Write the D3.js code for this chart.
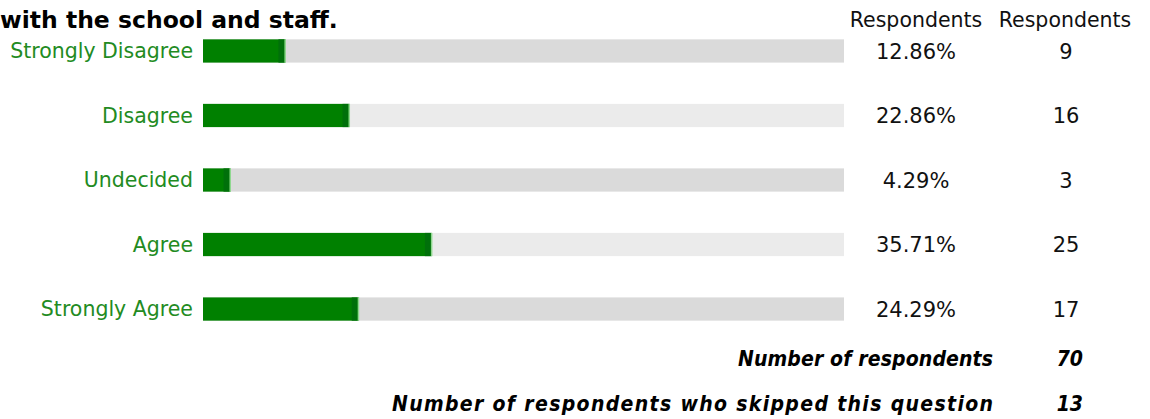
<!DOCTYPE html>
<html>
<head>
<meta charset="utf-8">
<script src="https://cdn.jsdelivr.net/npm/d3@7"></script>
<style>
  body { margin: 0; background: #fff; }
  svg { display: block; }
</style>
</head>
<body>
<div id="chart"></div>
<script>
const categories = ["Strongly Disagree", "Disagree", "Undecided", "Agree", "Strongly Agree"];
const percents = [12.86, 22.86, 4.29, 35.71, 24.29];
const counts = [9, 16, 3, 25, 17];
const headers = ["Respondents", "Respondents"];
const titleLine = "with the school and staff.";
const summaryLabels = ["Number of respondents", "Number of respondents who skipped this question"];
const summaryValues = [70, 13];

const W = 1150, H = 419;
const svg = d3.select("#chart").append("svg").attr("width", W).attr("height", H);

const x = d3.scaleLinear().domain([0, 100]).range([203, 844]);
const y = d3.scaleBand().domain(categories).range([20, 340]).paddingInner(0.64).paddingOuter(0.3);

const font = "DejaVu Sans, Verdana, sans-serif";
const condensed = "DejaVu Sans Condensed, DejaVu Sans, sans-serif";

// Title (second line of the question)
svg.append("text")
  .attr("x", 0).attr("y", 28)
  .attr("font-family", font)
  .attr("font-weight", "bold")
  .attr("font-size", "23.5px")
  .attr("fill", "#000")
  .text(titleLine);

// Column headers
const colX = [916, 1065];
svg.selectAll(".hdr")
  .data(headers)
  .join("text")
  .attr("class", "hdr")
  .attr("x", (d, i) => colX[i]).attr("y", 27)
  .attr("text-anchor", "middle")
  .attr("font-family", font)
  .attr("font-size", "20.5px")
  .attr("fill", "#111")
  .text((d) => d);

// Tracks (alternating shades)
svg.selectAll(".track")
  .data(categories)
  .join("rect")
  .attr("class", "track")
  .attr("x", x(0)).attr("y", (d) => y(d))
  .attr("width", x(100) - x(0)).attr("height", y.bandwidth())
  .attr("fill", (d, i) => i % 2 === 0 ? "#dadada" : "#ebebeb");

// Bars
svg.selectAll(".bar")
  .data(categories)
  .join("rect")
  .attr("class", "bar")
  .attr("x", x(0)).attr("y", (d) => y(d))
  .attr("width", (d, i) => x(percents[i]) - x(0)).attr("height", y.bandwidth())
  .attr("fill", "#008000");

// darker band near the end of each bar
svg.selectAll(".shade")
  .data(categories)
  .join("rect")
  .attr("class", "shade")
  .attr("x", (d, i) => Math.max(x(0), x(percents[i]) - 7)).attr("y", (d) => y(d))
  .attr("width", (d, i) => Math.min(6, x(percents[i]) - x(0) - 1)).attr("height", y.bandwidth())
  .attr("fill", "#00700a");

// light edge at the bar end
svg.selectAll(".edge")
  .data(categories)
  .join("rect")
  .attr("class", "edge")
  .attr("x", (d, i) => x(percents[i]) - 1).attr("y", (d) => y(d))
  .attr("width", 1.5).attr("height", y.bandwidth())
  .attr("fill", "#8fd88f");

// Category labels
svg.selectAll(".cat")
  .data(categories)
  .join("text")
  .attr("class", "cat")
  .attr("x", 193).attr("y", (d) => y(d) + y.bandwidth() / 2)
  .attr("dy", "0.36em")
  .attr("text-anchor", "end")
  .attr("font-family", font)
  .attr("font-size", "20.5px")
  .attr("fill", "#228b22")
  .text((d) => d);

// Percent values
svg.selectAll(".pct")
  .data(categories)
  .join("text")
  .attr("class", "pct")
  .attr("x", 916).attr("y", (d) => y(d) + y.bandwidth() / 2)
  .attr("dy", "0.36em")
  .attr("text-anchor", "middle")
  .attr("font-family", font)
  .attr("font-size", "21px")
  .attr("fill", "#111")
  .text((d, i) => percents[i].toFixed(2) + "%");

// Counts
svg.selectAll(".cnt")
  .data(categories)
  .join("text")
  .attr("class", "cnt")
  .attr("x", 1066).attr("y", (d) => y(d) + y.bandwidth() / 2)
  .attr("dy", "0.36em")
  .attr("text-anchor", "middle")
  .attr("font-family", font)
  .attr("font-size", "21px")
  .attr("fill", "#111")
  .text((d, i) => counts[i]);

// Summary rows
const sumY = [366, 411];
const sumW = [255, 601];
svg.selectAll(".sumlab")
  .data(summaryLabels)
  .join("text")
  .attr("class", "sumlab")
  .attr("x", 993).attr("y", (d, i) => sumY[i])
  .attr("text-anchor", "end")
  .attr("font-family", condensed)
  .attr("font-weight", "bold").attr("font-style", "italic")
  .attr("font-size", "21px")
  .attr("textLength", (d, i) => sumW[i])
  .attr("lengthAdjust", "spacing")
  .attr("fill", "#000")
  .text((d) => d);

svg.selectAll(".sumval")
  .data(summaryValues)
  .join("text")
  .attr("class", "sumval")
  .attr("x", 1083).attr("y", (d, i) => sumY[i])
  .attr("text-anchor", "end")
  .attr("font-family", condensed)
  .attr("font-weight", "bold").attr("font-style", "italic")
  .attr("font-size", "21px")
  .attr("fill", "#000")
  .text((d) => d);
</script>
</body>
</html>
